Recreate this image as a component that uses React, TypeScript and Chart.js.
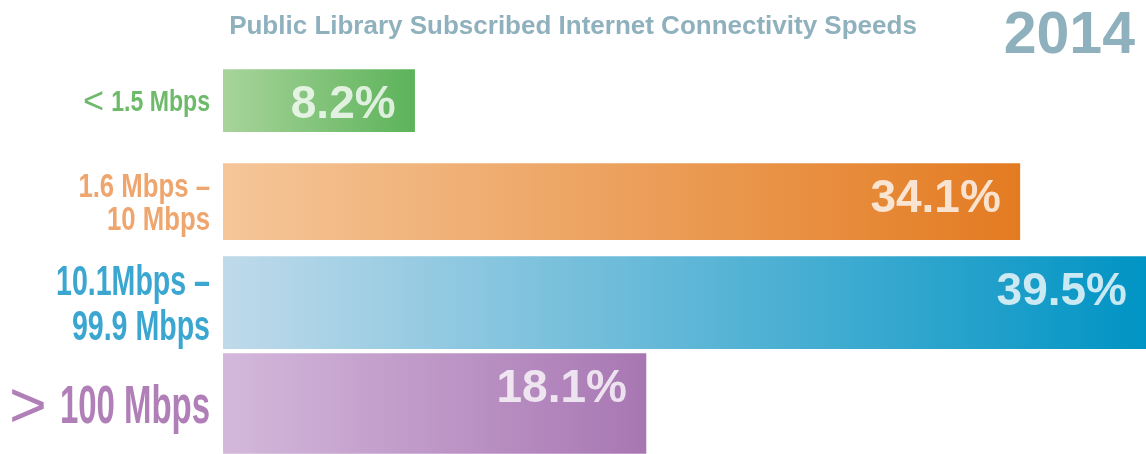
import React, { useEffect, useRef } from 'react';
import { Chart, registerables } from 'chart.js';

Chart.register(...registerables);

// ---- data ----
const categories: string[][] = [
  ['< 1.5 Mbps'],
  ['1.6 Mbps –', '10 Mbps'],
  ['10.1Mbps –', '99.9 Mbps'],
  ['> 100 Mbps'],
];
const shares: number[] = [8.2, 34.1, 39.5, 18.1];
const titleText = 'Public Library Subscribed Internet Connectivity Speeds';
const yearText = '2014';

// ---- styles ----
const gradientStart = ['#a8d49b', '#f5c699', '#bfdaea', '#d4b8db'];
const gradientEnd = ['#5cb35a', '#e37b21', '#0094c4', '#a877b3'];
const labelColors = ['#6cba6a', '#efa66e', '#3ba7d1', '#b07fb7'];
const labelSizes = [30, 33, 42, 54];
const labelLineSpacing = [0, 33.5, 45, 0];
const labelScaleX = [0.77, 0.78, 0.68, 0.61];
const labelGap = 13;
const barThickness = [62, 76, 92, 100];
const titleColor = '#8fb1be';
const labelFont = "'Liberation Sans', Arial, sans-serif";
const boldSans = "'Liberation Sans', Arial, Helvetica, sans-serif";

const overlayPlugin = {
  id: 'overlay',
  afterDatasetsDraw(chart: any) {
    const ctx = chart.ctx;
    ctx.save();
    ctx.font = `bold 46px ${boldSans}`;
    ctx.textAlign = 'right';
    ctx.textBaseline = 'alphabetic';
    ctx.fillStyle = 'rgba(255,255,255,0.78)';
    chart.data.datasets.forEach((ds: any, di: number) => {
      const meta = chart.getDatasetMeta(di);
      meta.data.forEach((el: any, i: number) => {
        const v = ds.data[i];
        if (v == null) return;
        const top = el.y - el.height / 2;
        ctx.fillText(v.toFixed(1) + '%', el.x - 19, top + 48);
      });
    });
    ctx.font = `bold 59px ${boldSans}`;
    ctx.fillStyle = titleColor;
    ctx.fillText(yearText, chart.width - 11, 53);
    ctx.restore();
  },
  afterDraw(chart: any) {
    const ys = chart.scales.y;
    const ctx = chart.ctx;
    const right = chart.chartArea.left - labelGap;
    categories.forEach((lines, i) => {
      const cy = ys.getPixelForTick(i);
      const size = labelSizes[i];
      const sx = labelScaleX[i];
      const cap = size * 0.716;
      const lh = labelLineSpacing[i];
      const first = cy - ((lines.length - 1) * lh) / 2 + cap / 2;
      ctx.save();
      ctx.fillStyle = labelColors[i];
      ctx.textAlign = 'right';
      ctx.textBaseline = 'alphabetic';
      lines.forEach((line, k) => {
        const base = first + k * lh;
        let text = line;
        let symbol = '';
        if (line.startsWith('<') || line.startsWith('>')) {
          symbol = line[0];
          text = line.slice(1).trim();
        }
        ctx.font = `bold ${size}px ${labelFont}`;
        const w = ctx.measureText(text).width * sx;
        ctx.save();
        ctx.translate(right, base);
        ctx.scale(sx, 1);
        ctx.fillText(text, 0, 0);
        ctx.restore();
        if (symbol) {
          const ss = size * 1.2;
          ctx.font = `${ss}px ${labelFont}`;
          ctx.fillText(symbol, right - w - size * 0.24, base + 0.069 * size);
        }
      });
      ctx.restore();
    });
  },
};

export default function App() {
  const canvasRef = useRef<HTMLCanvasElement | null>(null);

  useEffect(() => {
    if (!canvasRef.current) return;
    const datasets = shares.map((v, idx) => ({
      label: categories[idx].join(' '),
      data: shares.map((s, j) => (j === idx ? s : null)),
      barThickness: barThickness[idx],
      grouped: false,
      borderWidth: 0,
      backgroundColor: (context: any) => {
        const chart = context.chart;
        const area = chart.chartArea;
        const xScale = chart.scales.x;
        if (!area || !xScale) return gradientEnd[idx];
        const end = xScale.getPixelForValue(v);
        const g = chart.ctx.createLinearGradient(area.left, 0, end, 0);
        g.addColorStop(0, gradientStart[idx]);
        g.addColorStop(1, gradientEnd[idx]);
        return g;
      },
    }));

    const chart = new Chart(canvasRef.current, {
      type: 'bar',
      data: {
        labels: categories,
        datasets,
      },
      options: {
        indexAxis: 'y',
        animation: false,
        responsive: true,
        maintainAspectRatio: false,
        skipNull: true,
        layout: { padding: { left: 0, right: 0, top: 0, bottom: 0 } },
        plugins: {
          legend: { display: false },
          tooltip: { enabled: false },
          title: {
            display: true,
            text: titleText,
            color: titleColor,
            font: { family: boldSans, size: 26, weight: 'bold', lineHeight: 1.2 },
            padding: { top: 11, bottom: 8 },
          },
        },
        scales: {
          x: {
            display: false,
            min: 0,
            max: 39.5,
          },
          y: {
            grid: { display: false, drawTicks: false },
            border: { display: false },
            ticks: { display: false },
            afterFit: (scale: any) => {
              scale.width = 223;
              scale.paddingTop = 0;
              scale.paddingBottom = 0;
            },
          },
        },
      },
      plugins: [overlayPlugin],
    } as any);

    return () => chart.destroy();
  }, []);

  return (
    <div style={{ position: 'fixed', left: 0, top: 0, width: 1146, height: 454, background: '#ffffff' }}>
      <canvas ref={canvasRef} />
    </div>
  );
}
